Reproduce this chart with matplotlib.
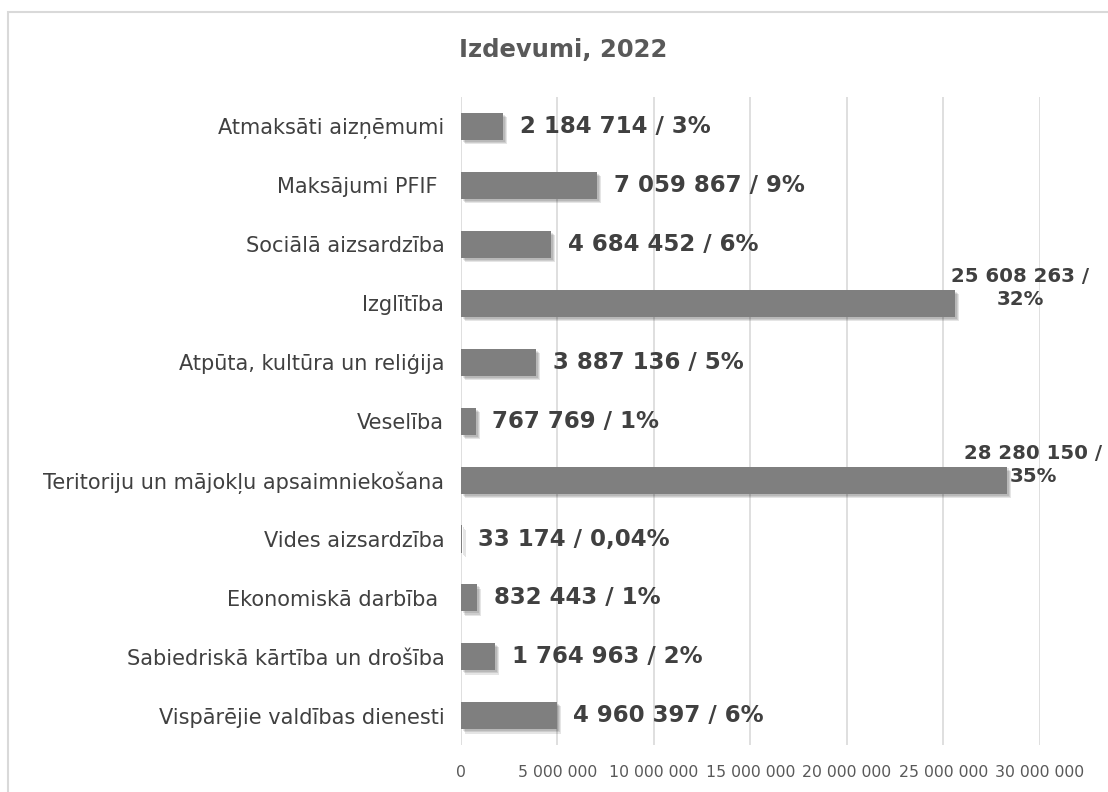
import matplotlib
matplotlib.use('Agg')
import matplotlib.pyplot as plt
import matplotlib.patches as mpatches
import matplotlib.patheffects as pe
from matplotlib.ticker import FuncFormatter

categories = [
    'Atmaksāti aizņēmumi',
    'Maksājumi PFIF ',
    'Sociālā aizsardzība',
    'Izglītība',
    'Atpūta, kultūra un reliģija',
    'Veselība',
    'Teritoriju un mājokļu apsaimniekošana',
    'Vides aizsardzība',
    'Ekonomiskā darbība ',
    'Sabiedriskā kārtība un drošība',
    'Vispārējie valdības dienesti',
]
values = [2184714, 7059867, 4684452, 25608263, 3887136, 767769,
          28280150, 33174, 832443, 1764963, 4960397]
shares = ['3%', '9%', '6%', '32%', '5%', '1%', '35%', '0,04%', '1%', '2%', '6%']
x_ticks = [0, 5000000, 10000000, 15000000, 20000000, 25000000, 30000000]


def fmt_num(v):
    return f'{int(v):,}'.replace(',', ' ')


bar_color = '#7f7f7f'
text_color = '#404040'
grid_color = '#d9d9d9'

fig = plt.figure(figsize=(11.08, 7.92), dpi=100)
ax = fig.add_axes([0.416, 0.059, 0.5225, 0.8185])

# frame around the chart area (runs off right/bottom)
fig.patches.append(mpatches.Rectangle((0.007, -0.02), 1.05, 1.005, transform=fig.transFigure,
                                      fill=False, edgecolor=grid_color, linewidth=1.5))

y = list(range(len(categories)))
bars = ax.barh(y, values, height=0.46, color=bar_color, zorder=3)
# soft drop shadow, roughly like the office one
shadow = [pe.SimplePatchShadow(offset=(k, -k), shadow_rgbFace='black', alpha=0.1) for k in (3, 2.2, 1.4)]
for b in bars:
    b.set_path_effects(shadow + [pe.Normal()])

ax.set_ylim(len(categories) - 0.5, -0.5)
ax.set_xlim(0, 30000000)
ax.set_yticks(y)
ax.set_yticklabels(categories, fontsize=15, color=text_color)
ax.set_xticks(x_ticks)
ax.xaxis.set_major_formatter(FuncFormatter(lambda v, p: fmt_num(v)))
ax.tick_params(axis='x', labelsize=11.3, colors='#595959', length=0, pad=14)
ax.tick_params(axis='y', length=0, pad=12)
ax.grid(axis='x', color=grid_color, linewidth=1.2, zorder=0)
for s in ax.spines.values():
    s.set_visible(False)

for i, (v, s) in enumerate(zip(values, shares)):
    if v > 20000000:
        # long labels wrap and sit above the bar end
        dx = 47 if v < 27000000 else 19
        ax.annotate(f'{fmt_num(v)} /\n{s}', xy=(v, i), xytext=(dx, 11), textcoords='offset points',
                    ha='center', va='center', multialignment='center',
                    fontsize=14.2, fontweight='bold', color=text_color, linespacing=1.3,
                    annotation_clip=False)
    else:
        ax.annotate(f'{fmt_num(v)} / {s}', xy=(v, i), xytext=(12, 0), textcoords='offset points',
                    ha='left', va='center', fontsize=16.5, fontweight='bold', color=text_color)

fig.text(0.508, 0.937, 'Izdevumi, 2022', ha='center', va='center',
         fontsize=17.5, fontweight='bold', color='#595959')

fig.savefig('out.png', dpi=100)
